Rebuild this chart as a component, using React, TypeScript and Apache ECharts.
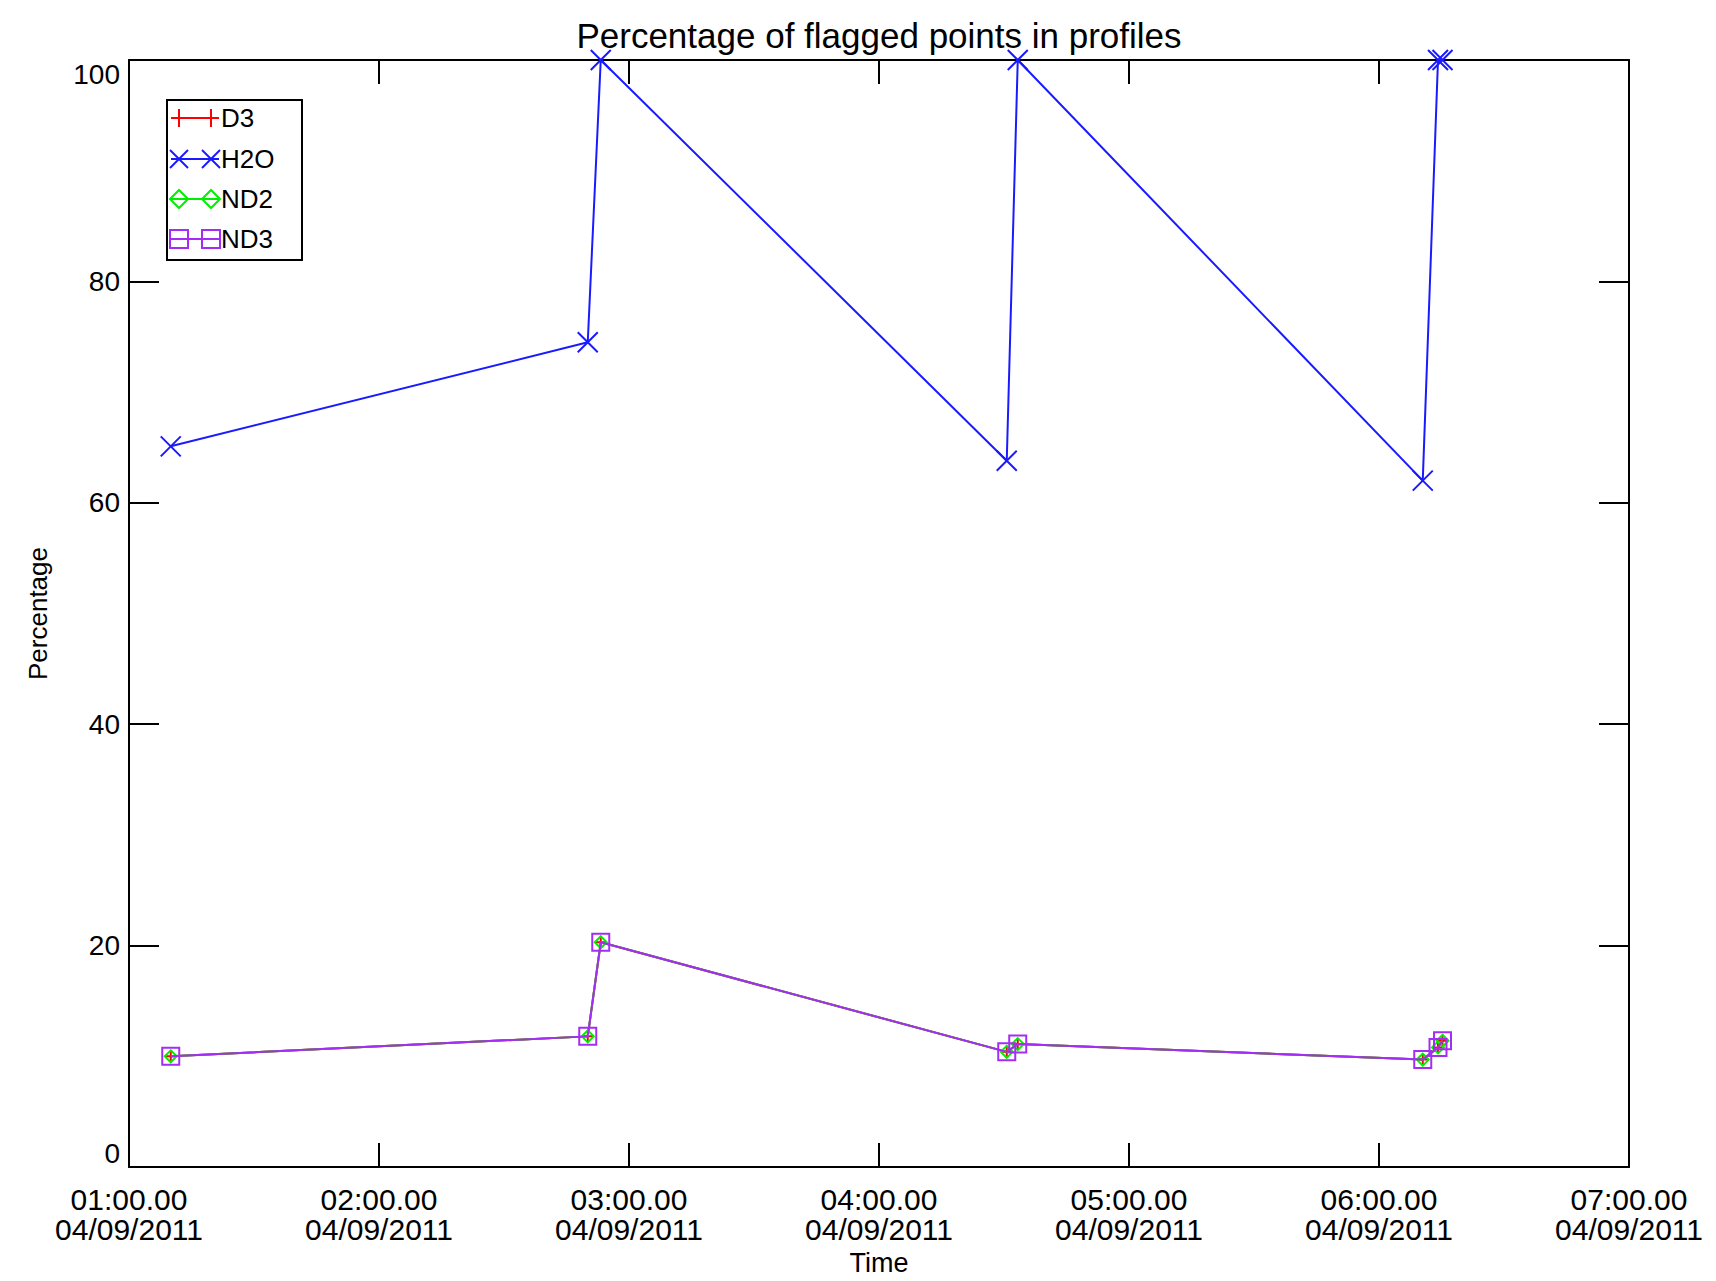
import React, { useEffect, useRef } from "react";
import * as echarts from "echarts";

// ---- data (hours after midnight, 04/09/2011) ----
const TIMES = [1.167, 2.835, 2.887, 4.511, 4.555, 6.175, 6.236, 6.254];
const D3 = [10.0, 11.8, 20.3, 10.4, 11.1, 9.7, 10.8, 11.4];
const H2O = [65.1, 74.5, 100, 63.8, 100, 62.0, 100, 100];
const ND2 = [10.0, 11.8, 20.3, 10.4, 11.1, 9.7, 10.8, 11.4];
const ND3 = [10.0, 11.8, 20.3, 10.4, 11.1, 9.7, 10.8, 11.4];

const X_TICK_TIMES = ["01:00.00", "02:00.00", "03:00.00", "04:00.00", "05:00.00", "06:00.00", "07:00.00"];
const X_TICK_DATE = "04/09/2011";
const SERIES_NAMES = ["D3", "H2O", "ND2", "ND3"];
const SERIES_COLORS = ["#ff0000", "#1a1aff", "#00ee00", "#a52cf5"];
const TITLE = "Percentage of flagged points in profiles";

const FONT = "'Liberation Sans', Arial, sans-serif";

const PLUS = "path://M5,0L5,10M0,5L10,5";
const CROSS = "path://M0,0L10,10M10,0L0,10";

export default function App() {
  const ref = useRef<HTMLDivElement>(null);
  useEffect(() => {
    const chart = echarts.init(ref.current!, null, { renderer: "svg" });
    const pair = (ys: number[]) => TIMES.map((t, i) => [t, ys[i]]);
    const values = [D3, H2O, ND2, ND3];
    const symbols = [PLUS, CROSS, "diamond", "rect"];
    const sizes = [12, 20, 12, 17];

    const series = SERIES_NAMES.map((name, i) => ({
      name,
      type: "line",
      data: pair(values[i]),
      symbol: symbols[i],
      symbolSize: sizes[i],
      showSymbol: true,
      lineStyle: { color: SERIES_COLORS[i], width: 2 },
      itemStyle: {
        color: "rgba(0,0,0,0)",
        borderColor: SERIES_COLORS[i],
        borderWidth: 2,
      },
      emphasis: { disabled: true },
      z: 2 + i,
    }));

    // legend (drawn as graphic, IDL style: marker at both ends of the line sample)
    const legendEls: any[] = [
      {
        type: "rect",
        shape: { x: 167, y: 100, width: 135, height: 160 },
        style: { fill: "#fff", stroke: "#000", lineWidth: 2 },
        z: 10,
      },
    ];
    const rowY = [118, 159, 199, 239];
    const mx = [179, 211];
    SERIES_NAMES.forEach((name, i) => {
      const y = rowY[i];
      const c = SERIES_COLORS[i];
      legendEls.push({
        type: "line",
        shape: { x1: 171, y1: y, x2: 219, y2: y },
        style: { stroke: c, lineWidth: 2 },
        z: 11,
      });
      mx.forEach((x) => {
        if (i === 0) {
          legendEls.push({ type: "line", shape: { x1: x, y1: y - 9, x2: x, y2: y + 9 }, style: { stroke: c, lineWidth: 2 }, z: 11 });
        } else if (i === 1) {
          legendEls.push({ type: "line", shape: { x1: x - 9, y1: y - 9, x2: x + 9, y2: y + 9 }, style: { stroke: c, lineWidth: 2 }, z: 11 });
          legendEls.push({ type: "line", shape: { x1: x - 9, y1: y + 9, x2: x + 9, y2: y - 9 }, style: { stroke: c, lineWidth: 2 }, z: 11 });
        } else if (i === 2) {
          legendEls.push({
            type: "polygon",
            shape: { points: [[x, y - 9], [x + 9, y], [x, y + 9], [x - 9, y]] },
            style: { fill: "none", stroke: c, lineWidth: 2 },
            z: 11,
          });
        } else {
          legendEls.push({
            type: "rect",
            shape: { x: x - 9, y: y - 9, width: 18, height: 18 },
            style: { fill: "none", stroke: c, lineWidth: 2 },
            z: 11,
          });
        }
      });
      legendEls.push({
        type: "text",
        x: 221,
        y,
        style: { text: name, fill: "#000", fontSize: 26, fontFamily: FONT, textVerticalAlign: "middle", textAlign: "left" },
        z: 11,
      });
    });

    const axisLine = { show: true, onZero: false, lineStyle: { color: "#000", width: 2 } };

    chart.setOption({
      animation: false,
      backgroundColor: "#fff",
      grid: { left: 129, right: 87, top: 60, bottom: 113, containLabel: false },
      graphic: [
        {
          type: "text",
          x: 879,
          y: 35,
          style: { text: TITLE, fill: "#000", fontSize: 35, fontFamily: FONT, textAlign: "center", textVerticalAlign: "middle" },
        },
        ...legendEls,
      ],
      xAxis: [
        {
          type: "value",
          min: 1,
          max: 7,
          interval: 1,
          position: "bottom",
          axisLine,
          axisTick: { show: true, inside: true, length: 24, lineStyle: { color: "#000", width: 2 } },
          splitLine: { show: false },
          axisLabel: {
            color: "#000",
            fontSize: 30,
            fontFamily: FONT,
            lineHeight: 30,
            margin: 17,
            formatter: (v: number) => {
              const idx = Math.round(v) - 1;
              return `${X_TICK_TIMES[idx]}\n${X_TICK_DATE}`;
            },
          },
          name: "Time",
          nameLocation: "middle",
          nameGap: 82,
          nameTextStyle: { color: "#000", fontSize: 27, fontFamily: FONT },
        },
        {
          type: "value",
          min: 1,
          max: 7,
          interval: 1,
          position: "top",
          axisLine,
          axisTick: { show: true, inside: true, length: 24, lineStyle: { color: "#000", width: 2 } },
          splitLine: { show: false },
          axisLabel: { show: false },
        },
      ],
      yAxis: [
        {
          type: "value",
          min: 0,
          max: 100,
          interval: 20,
          position: "left",
          axisLine,
          axisTick: { show: true, inside: true, length: 30, lineStyle: { color: "#000", width: 2 } },
          splitLine: { show: false },
          axisLabel: {
            color: "#000",
            fontSize: 28,
            fontFamily: FONT,
            margin: 9,
            verticalAlignMinLabel: "bottom",
            verticalAlignMaxLabel: "top",
          },
          name: "Percentage",
          nameLocation: "middle",
          nameRotate: 90,
          nameGap: 78,
          nameTextStyle: { color: "#000", fontSize: 26, fontFamily: FONT },
        },
        {
          type: "value",
          min: 0,
          max: 100,
          interval: 20,
          position: "right",
          axisLine,
          axisTick: { show: true, inside: true, length: 30, lineStyle: { color: "#000", width: 2 } },
          splitLine: { show: false },
          axisLabel: { show: false },
        },
      ],
      series,
    });
    return () => chart.dispose();
  }, []);
  return (
    <div
      ref={ref}
      style={{ position: "fixed", left: 0, top: 0, width: 1716, height: 1281, background: "#fff" }}
    />
  );
}
